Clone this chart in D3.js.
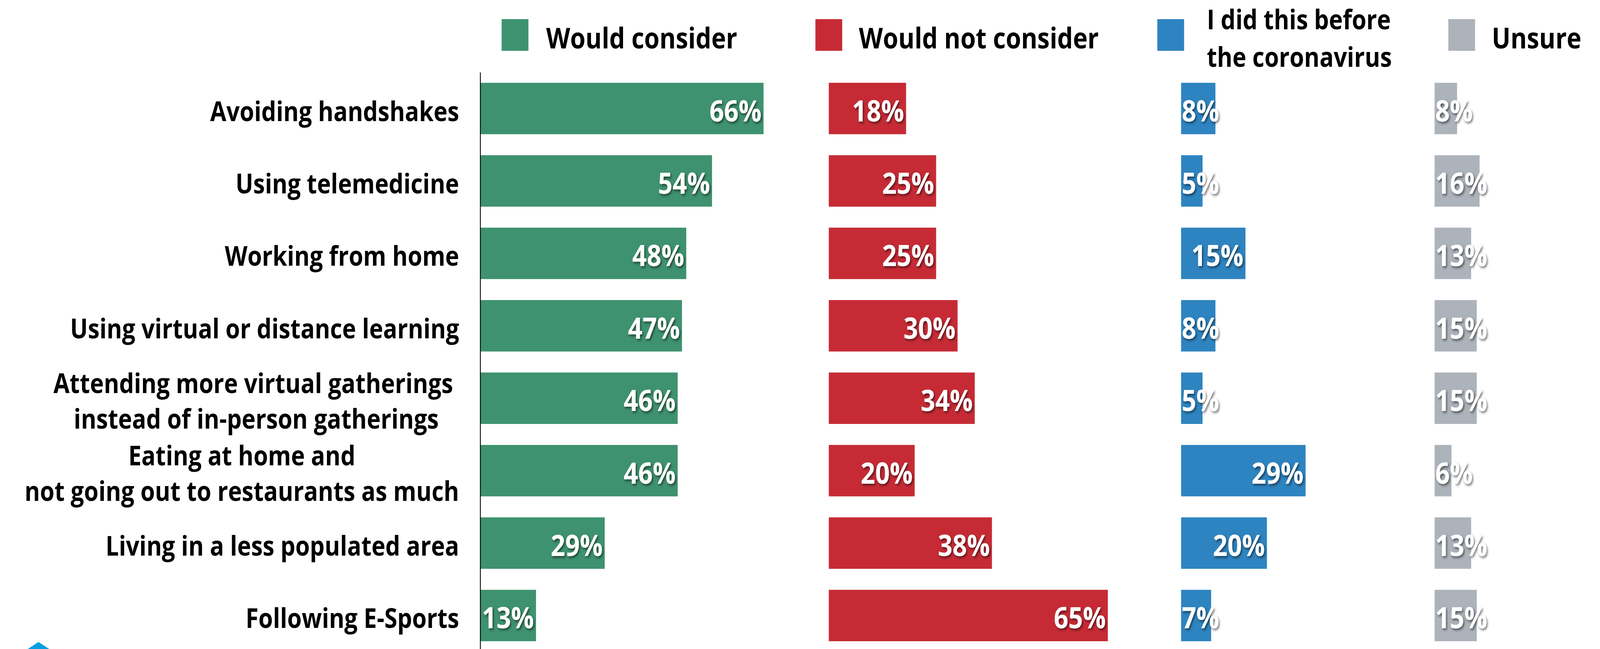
<!DOCTYPE html>
<html>
<head>
<meta charset="utf-8">
<script src="https://cdn.jsdelivr.net/npm/d3@7"></script>
<style>
  html, body { margin: 0; padding: 0; background: #fff; overflow: hidden; }
  svg { display: block; }
  svg text { font-family: 'Open Sans', Roboto, sans-serif; font-weight: 700; }
</style>
</head>
<body>
<div id="chart"></div>
<script>
// survey answers, one value per activity, in percent
const categories = [
  'Avoiding handshakes',
  'Using telemedicine',
  'Working from home',
  'Using virtual or distance learning',
  'Attending more virtual gatherings |instead of in-person gatherings',
  'Eating at home and|not going out to restaurants as much',
  'Living in a less populated area',
  'Following E-Sports'
]
const wouldConsider = [66, 54, 48, 47, 46, 46, 29, 13]
const wouldNotConsider = [18, 25, 25, 30, 34, 20, 38, 65]
const didBefore = [8, 5, 15, 8, 5, 29, 20, 7]
const unsure = [8, 16, 13, 15, 15, 6, 13, 15]
const seriesNames = ['Would consider', 'Would not consider', 'I did this before|the coronavirus', 'Unsure']

const seriesValues = [wouldConsider, wouldNotConsider, didBefore, unsure]
const colors = ['#3e9270', '#c62b35', '#2e84c0', '#adb3bb']

;(function() {
  const chartWidth = 4778
  const chartHeight = 1661
  const labelRight = 1371
  const axisX = 1434
  // panel left edge and pixel width of 100%
  const panels = [
    { x: 1434, w: 1282 },
    { x: 2475, w: 1282 },
    { x: 3527, w: 1282 },
    { x: 4284, w: 840 }
  ]
  const legendPos = [
    { x: 1498, tx: 1631 },
    { x: 2435, tx: 2565 },
    { x: 3456, tx: 3604 },
    { x: 4325, tx: 4455 }
  ]

  // the window is narrower than the chart, so stretch the drawing to fill it
  const svg = d3.select('#chart')
    .append('svg')
      .attr('viewBox', `0 0 ${chartWidth} ${chartHeight}`)
      .attr('preserveAspectRatio', 'none')
      .style('width', '100vw')
      .style('height', '100vh')

  const defs = svg.append('defs')
  defs.append('filter')
      .attr('id', 'shadow')
      .attr('x', '-20%').attr('y', '-20%')
      .attr('width', '150%').attr('height', '150%')
    .append('feDropShadow')
      .attr('dx', 3)
      .attr('dy', 4)
      .attr('stdDeviation', 3)
      .attr('flood-color', '#000')
      .attr('flood-opacity', 0.55)

  const y = d3.scaleBand()
    .domain(categories)
    .range([185, 1668])
    .paddingInner(0.29)
    .paddingOuter(0.145)

  const rowMid = d => y(d) + y.bandwidth() / 2

  // legend
  const legend = svg.append('g').attr('class', 'legend')
  seriesNames.forEach((name, i) => {
    legend.append('rect')
      .attr('x', legendPos[i].x)
      .attr('y', 49)
      .attr('width', 80)
      .attr('height', 81)
      .attr('fill', colors[i])

    const lines = name.split('|')
    const t = legend.append('text')
      .attr('font-size', lines.length > 1 ? 70 : 74)
      .attr('fill', '#000')
    lines.forEach((line, j) => {
      t.append('tspan')
        .attr('x', legendPos[i].tx)
        .attr('y', (lines.length > 1 ? 123 : 124) + (j - (lines.length - 1) / 2) * 96)
        .text(line)
    })
  })

  // category labels
  const catLabels = svg.append('g').attr('class', 'categories')
  categories.forEach(cat => {
    const lines = cat.split('|')
    const t = catLabels.append('text')
      .attr('font-size', 70)
      .attr('fill', '#000')
      .style('white-space', 'pre')
    const spans = lines.map((line, j) =>
      t.append('tspan')
        .attr('y', rowMid(cat) + 32 + (j - (lines.length - 1) / 2) * 91)
        .text(line)
    )
    if (lines.length === 1) {
      spans[0].attr('x', labelRight).attr('text-anchor', 'end')
    } else {
      // two-line labels are centred on each other, block flush right
      const maxW = d3.max(spans, s => s.node().getComputedTextLength())
      spans.forEach(s => s.attr('x', labelRight - maxW / 2).attr('text-anchor', 'middle'))
    }
  })

  // bars
  seriesValues.forEach((values, i) => {
    const x = d3.scaleLinear()
      .domain([0, 100])
      .range([panels[i].x, panels[i].x + panels[i].w])

    const g = svg.append('g').attr('class', 'series-' + i)

    g.selectAll('rect')
      .data(values)
      .enter()
      .append('rect')
        .attr('x', x(0))
        .attr('y', (d, k) => y(categories[k]))
        .attr('width', d => x(d) - x(0))
        .attr('height', y.bandwidth())
        .attr('fill', colors[i])

    g.selectAll('text')
      .data(values)
      .enter()
      .append('text')
        .attr('font-size', 76)
        .attr('fill', '#fff')
        .attr('filter', 'url(#shadow)')
        .attr('y', (d, k) => rowMid(categories[k]) + 33)
        .text(d => d + '%')
        .each(function(d) {
          const w = this.getComputedTextLength()
          const barW = x(d) - x(0)
          if (barW > w + 8) {
            d3.select(this).attr('x', x(d) - 6).attr('text-anchor', 'end')
          } else {
            d3.select(this).attr('x', x(0) + 2).attr('text-anchor', 'start')
          }
        })
  })

  // vertical axis line
  svg.append('g')
    .attr('transform', `translate(${axisX}, 0)`)
    .call(d3.axisLeft(y).tickSize(0).tickSizeOuter(0).tickFormat(''))
    .call(g => g.select('.domain').attr('stroke', '#000').attr('stroke-width', 2.5))

  // corner of the logo, cut by the bottom edge
  svg.append('path')
    .attr('d', d3.line()([[83, chartHeight], [115, 1643], [147, chartHeight]]))
    .attr('fill', '#05a0e4')
})()
</script>
</body>
</html>
